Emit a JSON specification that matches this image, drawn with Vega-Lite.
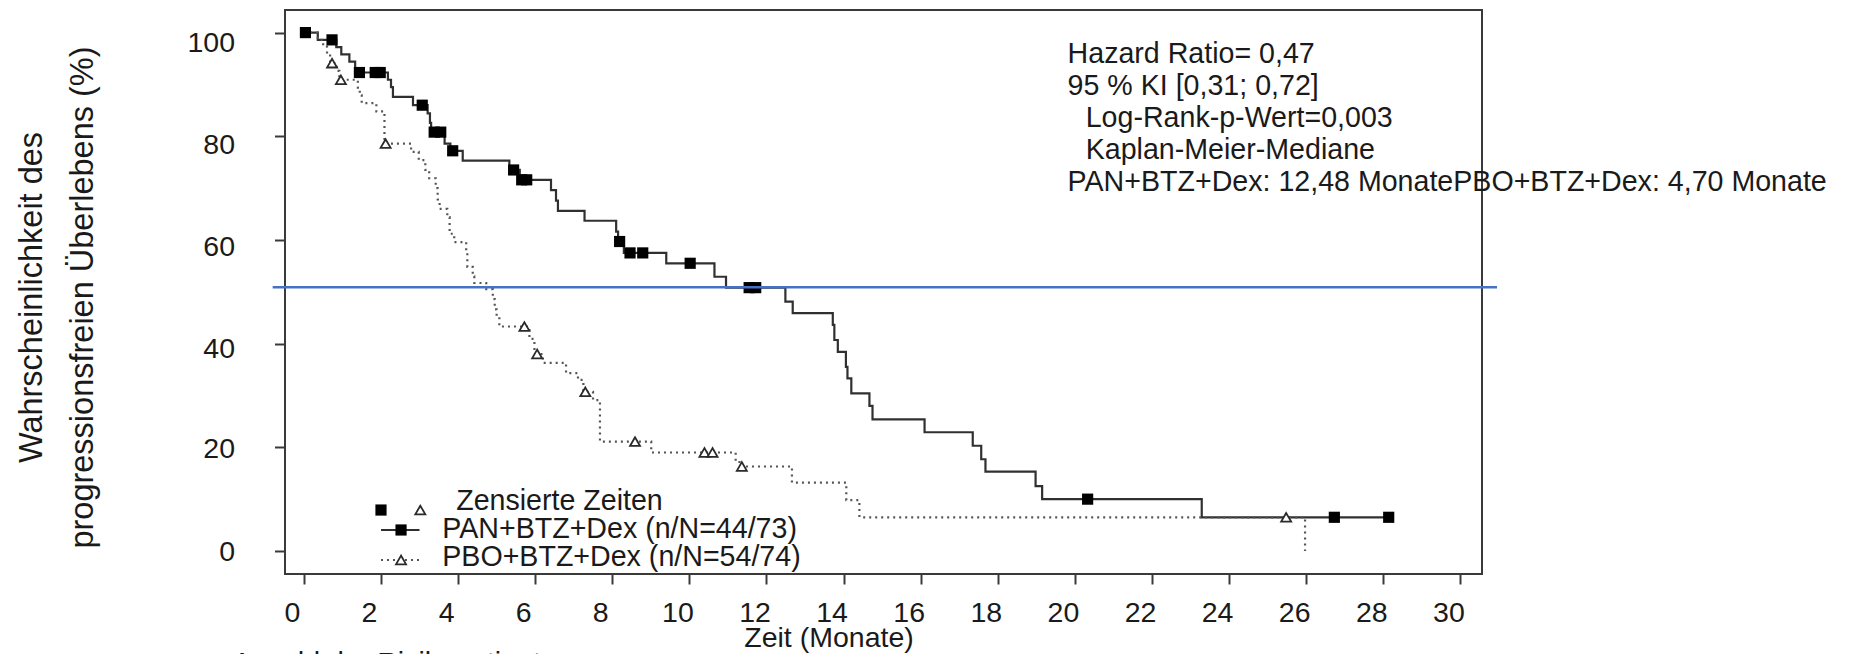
{
  "$schema": "https://vega.github.io/schema/vega-lite/v6.json",
  "width": 1197,
  "height": 564,
  "autosize": {"type": "none"},
  "padding": {"left": 285, "top": 10, "right": 368, "bottom": 80},
  "config": {"font": "Liberation Sans", "view": {"stroke": "#3a3a3a", "strokeWidth": 2}},
  "datasets": {
    "curves": [
      {"g": "PAN", "t": 0, "s": 100}, {"g": "PAN", "t": 0.36, "s": 98.6}, {"g": "PAN", "t": 0.84, "s": 97.2}, {"g": "PAN", "t": 0.97, "s": 95.8}, {"g": "PAN", "t": 1.18, "s": 94.4}, {"g": "PAN", "t": 1.33, "s": 92.3}, {"g": "PAN", "t": 2.18, "s": 90.9}, {"g": "PAN", "t": 2.26, "s": 89.5}, {"g": "PAN", "t": 2.31, "s": 87.6}, {"g": "PAN", "t": 2.83, "s": 86.0}, {"g": "PAN", "t": 3.21, "s": 84.4}, {"g": "PAN", "t": 3.27, "s": 82.6}, {"g": "PAN", "t": 3.3, "s": 80.8}, {"g": "PAN", "t": 3.65, "s": 78.6}, {"g": "PAN", "t": 3.8, "s": 77.2}, {"g": "PAN", "t": 4.12, "s": 75.3}, {"g": "PAN", "t": 5.33, "s": 73.5}, {"g": "PAN", "t": 5.6, "s": 71.6}, {"g": "PAN", "t": 6.41, "s": 69.6}, {"g": "PAN", "t": 6.54, "s": 67.6}, {"g": "PAN", "t": 6.59, "s": 65.6}, {"g": "PAN", "t": 7.28, "s": 63.7}, {"g": "PAN", "t": 8.1, "s": 61.6}, {"g": "PAN", "t": 8.15, "s": 59.7}, {"g": "PAN", "t": 8.3, "s": 57.5}, {"g": "PAN", "t": 9.4, "s": 55.5}, {"g": "PAN", "t": 10.65, "s": 52.9}, {"g": "PAN", "t": 10.95, "s": 50.8}, {"g": "PAN", "t": 12.49, "s": 48.1}, {"g": "PAN", "t": 12.68, "s": 45.9}, {"g": "PAN", "t": 13.72, "s": 43.6}, {"g": "PAN", "t": 13.76, "s": 40.7}, {"g": "PAN", "t": 13.85, "s": 38.4}, {"g": "PAN", "t": 14.06, "s": 35.5}, {"g": "PAN", "t": 14.1, "s": 33.3}, {"g": "PAN", "t": 14.2, "s": 30.4}, {"g": "PAN", "t": 14.67, "s": 28.0}, {"g": "PAN", "t": 14.75, "s": 25.4}, {"g": "PAN", "t": 16.1, "s": 22.9}, {"g": "PAN", "t": 17.35, "s": 20.3}, {"g": "PAN", "t": 17.57, "s": 17.7}, {"g": "PAN", "t": 17.68, "s": 15.3}, {"g": "PAN", "t": 18.98, "s": 12.5}, {"g": "PAN", "t": 19.15, "s": 10.0}, {"g": "PAN", "t": 23.29, "s": 6.5}, {"g": "PAN", "t": 28.14, "s": 6.5},
      {"g": "PBO", "t": 0, "s": 100}, {"g": "PBO", "t": 0.36, "s": 98.6}, {"g": "PBO", "t": 0.5, "s": 97.3}, {"g": "PBO", "t": 0.6, "s": 95.9}, {"g": "PBO", "t": 0.68, "s": 94.1}, {"g": "PBO", "t": 0.85, "s": 92.6}, {"g": "PBO", "t": 0.92, "s": 90.9}, {"g": "PBO", "t": 1.4, "s": 89.4}, {"g": "PBO", "t": 1.45, "s": 87.9}, {"g": "PBO", "t": 1.5, "s": 86.4}, {"g": "PBO", "t": 1.88, "s": 84.8}, {"g": "PBO", "t": 2.09, "s": 78.6}, {"g": "PBO", "t": 2.78, "s": 77.0}, {"g": "PBO", "t": 2.98, "s": 75.4}, {"g": "PBO", "t": 3.15, "s": 73.5}, {"g": "PBO", "t": 3.25, "s": 71.9}, {"g": "PBO", "t": 3.42, "s": 70.0}, {"g": "PBO", "t": 3.47, "s": 67.8}, {"g": "PBO", "t": 3.52, "s": 66.0}, {"g": "PBO", "t": 3.72, "s": 64.4}, {"g": "PBO", "t": 3.78, "s": 61.2}, {"g": "PBO", "t": 3.9, "s": 59.6}, {"g": "PBO", "t": 4.21, "s": 58.0}, {"g": "PBO", "t": 4.24, "s": 54.8}, {"g": "PBO", "t": 4.38, "s": 53.0}, {"g": "PBO", "t": 4.42, "s": 51.7}, {"g": "PBO", "t": 4.73, "s": 50.5}, {"g": "PBO", "t": 4.9, "s": 48.6}, {"g": "PBO", "t": 4.95, "s": 46.6}, {"g": "PBO", "t": 5.0, "s": 45.2}, {"g": "PBO", "t": 5.07, "s": 43.3}, {"g": "PBO", "t": 5.85, "s": 40.9}, {"g": "PBO", "t": 5.98, "s": 38.0}, {"g": "PBO", "t": 6.2, "s": 36.3}, {"g": "PBO", "t": 6.8, "s": 34.3}, {"g": "PBO", "t": 7.11, "s": 33.0}, {"g": "PBO", "t": 7.25, "s": 30.7}, {"g": "PBO", "t": 7.5, "s": 29.1}, {"g": "PBO", "t": 7.68, "s": 21.1}, {"g": "PBO", "t": 9.01, "s": 19.0}, {"g": "PBO", "t": 11.2, "s": 17.6}, {"g": "PBO", "t": 11.3, "s": 16.3}, {"g": "PBO", "t": 12.66, "s": 13.2}, {"g": "PBO", "t": 14.07, "s": 9.8}, {"g": "PBO", "t": 14.41, "s": 6.5}, {"g": "PBO", "t": 25.96, "s": 6.5}, {"g": "PBO", "t": 25.97, "s": 0}
    ],
    "squares": [
      {"t": 0.04, "s": 100}, {"t": 0.73, "s": 98.6}, {"t": 1.44, "s": 92.3}, {"t": 1.85, "s": 92.3}, {"t": 1.98, "s": 92.3}, {"t": 3.07, "s": 86.0}, {"t": 3.38, "s": 80.8}, {"t": 3.55, "s": 80.8}, {"t": 3.86, "s": 77.2}, {"t": 5.44, "s": 73.5}, {"t": 5.65, "s": 71.6}, {"t": 5.78, "s": 71.6}, {"t": 8.19, "s": 59.7}, {"t": 8.46, "s": 57.5}, {"t": 8.79, "s": 57.5}, {"t": 10.02, "s": 55.5}, {"t": 11.55, "s": 50.8}, {"t": 11.72, "s": 50.8}, {"t": 20.33, "s": 10.0}, {"t": 26.73, "s": 6.5}, {"t": 28.14, "s": 6.5},
      {"t": 2.0, "s": 7.9}, {"t": 2.52, "s": 4.05}
    ],
    "triangles": [
      {"t": 0.73, "s": 94.1}, {"t": 0.96, "s": 90.9}, {"t": 2.12, "s": 78.6}, {"t": 5.72, "s": 43.3}, {"t": 6.05, "s": 38.0}, {"t": 7.3, "s": 30.7}, {"t": 8.59, "s": 21.1}, {"t": 10.39, "s": 19.0}, {"t": 10.6, "s": 19.0}, {"t": 11.36, "s": 16.3}, {"t": 25.48, "s": 6.5},
      {"t": 3.02, "s": 7.9}, {"t": 2.52, "s": -1.74}
    ],
    "legendLines": [
      {"g": "PAN", "x": 2.0, "x2": 3.0, "y": 4.05},
      {"g": "PBO", "x": 2.0, "x2": 3.0, "y": -1.74}
    ],
    "texts": [
      {"x": 19.81, "y": 94.2, "label": "Hazard Ratio= 0,47"},
      {"x": 19.81, "y": 87.9, "label": "95 % KI [0,31; 0,72]"},
      {"x": 20.28, "y": 81.8, "label": "Log-Rank-p-Wert=0,003"},
      {"x": 20.28, "y": 75.7, "label": "Kaplan-Meier-Mediane"},
      {"x": 19.81, "y": 69.4, "label": "PAN+BTZ+Dex: 12,48 MonatePBO+BTZ+Dex: 4,70 Monate"},
      {"x": 3.95, "y": 7.9, "label": "Zensierte Zeiten"},
      {"x": 3.59, "y": 2.5, "label": "PAN+BTZ+Dex (n/N=44/73)"},
      {"x": 3.59, "y": -2.9, "label": "PBO+BTZ+Dex (n/N=54/74)"},
      {"x": -1.85, "y": -23.5, "label": "Anzahl der Risikopatienten"}
    ],
    "median": [{"x": -0.81, "x2": 30.95, "y": 50.87}]
  },
  "layer": [
    {
      "data": {"name": "curves"},
      "mark": {"type": "line", "interpolate": "step-after", "strokeWidth": 2.2},
      "encoding": {
        "x": {
          "field": "t", "type": "quantitative",
          "scale": {"domain": [-0.49, 30.56], "nice": false, "zero": false},
          "axis": {
            "values": [0, 2, 4, 6, 8, 10, 12, 14, 16, 18, 20, 22, 24, 26, 28, 30],
            "domain": false, "grid": false, "tickSize": 10, "tickColor": "#3a3a3a", "tickWidth": 2,
            "labelFontSize": 28.5, "labelColor": "#1a1a1a", "labelBaseline": "alphabetic", "labelPadding": 37,
            "labelOffset": -12, "labelFlush": false, "labelOverlap": false,
            "title": "Zeit (Monate)", "titleFontSize": 28.5, "titleFontWeight": "normal", "titleColor": "#1a1a1a",
            "titleX": 543.5, "titleY": 72, "titleBaseline": "alphabetic", "titleAlign": "center"
          }
        },
        "y": {
          "field": "s", "type": "quantitative",
          "scale": {"domain": [-4.44, 104.36], "nice": false, "zero": false},
          "axis": {
            "values": [0, 20, 40, 60, 80, 100],
            "domain": false, "grid": false, "tickSize": 10.5, "tickColor": "#3a3a3a", "tickWidth": 2,
            "labelFontSize": 28.5, "labelColor": "#1a1a1a", "labelPadding": 40,
            "labelOffset": {"condition": [{"test": "datum.value == 100", "value": 10}, {"test": "datum.value == 80", "value": 8}, {"test": "datum.value == 60", "value": 7}, {"test": "datum.value == 40", "value": 5}], "value": 1},
            "labelFlush": false, "labelOverlap": false,
            "title": ["Wahrscheinlichkeit des", "progressionsfreien Überlebens (%)"],
            "titleFontSize": 32.5, "titleFontWeight": "normal", "titleColor": "#1a1a1a",
            "titleAngle": 270, "titleX": -244, "titleY": 287, "titleAlign": "center",
            "titleBaseline": "alphabetic", "titleLineHeight": 51.5
          }
        },
        "detail": {"field": "g"},
        "color": {"field": "g", "type": "nominal", "scale": {"domain": ["PAN", "PBO"], "range": ["#303030", "#555555"]}, "legend": null},
        "strokeDash": {"field": "g", "type": "nominal", "scale": {"domain": ["PAN", "PBO"], "range": [[1, 0], [2, 4]]}, "legend": null}
      }
    },
    {
      "data": {"name": "legendLines"},
      "mark": {"type": "rule", "strokeWidth": 2.2},
      "encoding": {
        "x": {"field": "x", "type": "quantitative"},
        "x2": {"field": "x2"},
        "y": {"field": "y", "type": "quantitative"},
        "color": {"field": "g", "type": "nominal", "scale": {"domain": ["PAN", "PBO"], "range": ["#303030", "#555555"]}, "legend": null},
        "strokeDash": {"field": "g", "type": "nominal", "scale": {"domain": ["PAN", "PBO"], "range": [[1, 0], [2, 4]]}, "legend": null}
      }
    },
    {
      "data": {"name": "squares"},
      "mark": {"type": "point", "shape": "square", "filled": true, "fill": "#000000", "stroke": null, "size": 125, "opacity": 1},
      "encoding": {
        "x": {"field": "t", "type": "quantitative"},
        "y": {"field": "s", "type": "quantitative"}
      }
    },
    {
      "data": {"name": "triangles"},
      "mark": {"type": "point", "shape": "triangle-up", "filled": false, "fill": "#ffffff", "fillOpacity": 1, "stroke": "#2a2a2a", "strokeWidth": 1.8, "size": 100, "opacity": 1},
      "encoding": {
        "x": {"field": "t", "type": "quantitative"},
        "y": {"field": "s", "type": "quantitative"}
      }
    },
    {
      "data": {"name": "texts"},
      "mark": {"type": "text", "align": "left", "baseline": "alphabetic", "fontSize": 28.6, "color": "#1a1a1a"},
      "encoding": {
        "x": {"field": "x", "type": "quantitative"},
        "y": {"field": "y", "type": "quantitative"},
        "text": {"field": "label"}
      }
    },
    {
      "data": {"name": "median"},
      "mark": {"type": "rule", "color": "#4472C4", "strokeWidth": 2.5},
      "encoding": {
        "x": {"field": "x", "type": "quantitative"},
        "x2": {"field": "x2"},
        "y": {"field": "y", "type": "quantitative"}
      }
    }
  ]
}
